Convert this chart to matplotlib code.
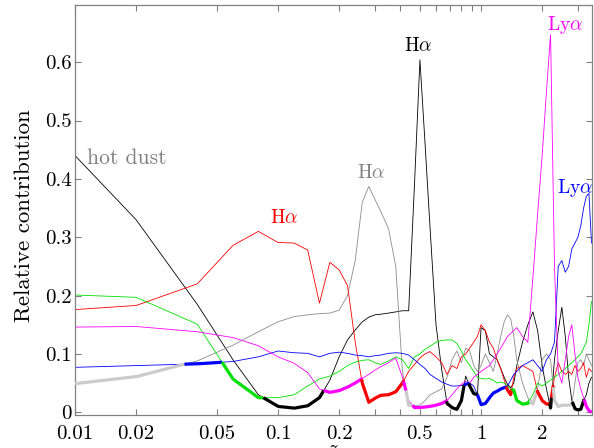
import numpy as np
import matplotlib
matplotlib.use("Agg")
import matplotlib.pyplot as plt
from matplotlib.ticker import FixedLocator, FixedFormatter, NullLocator

plt.rcParams['font.family'] = 'serif'
plt.rcParams['font.serif'] = ['cmr10']
plt.rcParams['mathtext.fontset'] = 'cm'
plt.rcParams['axes.unicode_minus'] = False
plt.rcParams['axes.formatter.use_mathtext'] = True

# ---------------- data ----------------
z = [0.01, 0.02, 0.04, 0.06, 0.08, 0.10, 0.12, 0.14, 0.16, 0.18,
     0.20, 0.22, 0.24, 0.26, 0.28, 0.30, 0.32, 0.35, 0.38, 0.41,
     0.44, 0.47, 0.50, 0.53, 0.56, 0.60, 0.64, 0.68, 0.72, 0.76,
     0.80, 0.84, 0.88, 0.92, 0.96, 1.00, 1.05, 1.10, 1.15, 1.20,
     1.25, 1.30, 1.35, 1.40, 1.45, 1.50, 1.60, 1.70, 1.80, 1.90,
     2.00, 2.10, 2.20, 2.30, 2.40, 2.50, 2.60, 2.70, 2.80, 2.90,
     3.00, 3.10, 3.20, 3.30, 3.40, 3.50]

black = [0.44, 0.33, 0.185, 0.09, 0.03, 0.01, 0.007, 0.011, 0.025, 0.055,
         0.095, 0.124, 0.141, 0.155, 0.163, 0.167, 0.168, 0.17, 0.172, 0.174,
         0.174, 0.39, 0.604, 0.46, 0.32, 0.15, 0.073, 0.015, 0.008, 0.005,
         0.02, 0.062, 0.045, 0.032, 0.03, 0.145, 0.14, 0.10, 0.095, 0.09,
         0.075, 0.06, 0.048, 0.042, 0.05, 0.08, 0.12, 0.15, 0.172, 0.14,
         0.08, 0.04, 0.007, 0.09, 0.14, 0.18, 0.13, 0.06, 0.02, 0.006,
         0.004, 0.005, 0.02, 0.03, 0.05, 0.06]

gray = [0.049, 0.061, 0.088, 0.115, 0.138, 0.155, 0.164, 0.167, 0.169, 0.17,
        0.175, 0.2, 0.26, 0.36, 0.387, 0.365, 0.345, 0.315, 0.25, 0.07,
        0.012, 0.012, 0.012, 0.02, 0.03, 0.035, 0.04, 0.06, 0.09, 0.105,
        0.085, 0.11, 0.105, 0.08, 0.07, 0.08, 0.1, 0.085, 0.07, 0.1,
        0.13, 0.155, 0.167, 0.16, 0.13, 0.09, 0.05, 0.025, 0.014, 0.04,
        0.09, 0.1, 0.09, 0.02, 0.01, 0.012, 0.012, 0.012, 0.013, 0.05,
        0.085, 0.09, 0.08, 0.1, 0.09, 0.08]

red = [0.176, 0.183, 0.22, 0.286, 0.31, 0.291, 0.29, 0.278, 0.187, 0.257,
       0.244, 0.217, 0.12, 0.05, 0.017, 0.024, 0.029, 0.03, 0.035, 0.05,
       0.07, 0.082, 0.093, 0.1, 0.104, 0.095, 0.085, 0.065, 0.08, 0.075,
       0.095, 0.1, 0.11, 0.12, 0.13, 0.15, 0.14, 0.12, 0.11, 0.09,
       0.075, 0.055, 0.038, 0.03, 0.06, 0.075, 0.08, 0.075, 0.07, 0.035,
       0.02, 0.014, 0.015, 0.06, 0.085, 0.07, 0.065, 0.07, 0.065, 0.08,
       0.07, 0.075, 0.085, 0.06, 0.075, 0.07]

green = [0.201, 0.197, 0.151, 0.057, 0.025, 0.025, 0.03, 0.045, 0.057, 0.062,
         0.07, 0.08, 0.086, 0.089, 0.09, 0.085, 0.082, 0.088, 0.095, 0.09,
         0.075, 0.095, 0.1, 0.108, 0.113, 0.12, 0.123, 0.124, 0.124, 0.118,
         0.105, 0.09, 0.08, 0.07, 0.06, 0.058, 0.057, 0.058, 0.055, 0.05,
         0.052, 0.05, 0.045, 0.04, 0.038, 0.02, 0.014, 0.015, 0.03, 0.05,
         0.045, 0.05, 0.055, 0.06, 0.065, 0.07, 0.075, 0.08, 0.085, 0.09,
         0.095, 0.1, 0.11, 0.12, 0.15, 0.19]

blue = [0.077, 0.08, 0.083, 0.087, 0.095, 0.105, 0.102, 0.101, 0.095, 0.101,
        0.103, 0.101, 0.098, 0.097, 0.095, 0.097, 0.098, 0.101, 0.102, 0.101,
        0.098, 0.09, 0.082, 0.075, 0.065, 0.058, 0.052, 0.048, 0.045, 0.045,
        0.046, 0.048, 0.05, 0.045, 0.03, 0.013, 0.015, 0.025, 0.033, 0.036,
        0.04, 0.042, 0.045, 0.055, 0.065, 0.07, 0.08, 0.085, 0.09, 0.08,
        0.07, 0.09, 0.1, 0.12, 0.25, 0.26, 0.24, 0.25, 0.28, 0.29,
        0.3, 0.32, 0.35, 0.37, 0.375, 0.29]

magenta = [0.146, 0.147, 0.138, 0.128, 0.114, 0.095, 0.084, 0.068, 0.04, 0.034,
           0.037, 0.043, 0.05, 0.058, 0.065, 0.072, 0.078, 0.085, 0.093, 0.06,
           0.02, 0.008, 0.008, 0.009, 0.01, 0.012, 0.015, 0.02, 0.03, 0.04,
           0.048, 0.053, 0.05, 0.06, 0.065, 0.07, 0.075, 0.08, 0.09, 0.1,
           0.11, 0.12, 0.13, 0.135, 0.14, 0.145, 0.13, 0.12, 0.23, 0.34,
           0.44, 0.55, 0.647, 0.25, 0.07, 0.05, 0.09, 0.13, 0.15, 0.1,
           0.06, 0.04, 0.025, 0.01, 0.003, 0.0]

series_names = ['black', 'gray', 'red', 'green', 'blue', 'magenta']
series_vals = [black, gray, red, green, blue, magenta]

xtick_vals = [0.01, 0.02, 0.05, 0.1, 0.2, 0.3, 0.4, 0.5, 0.6, 0.7, 0.8, 0.9, 1, 2, 3]
xtick_labels = ['0.01', '0.02', '0.05', '0.1', '0.2', '', '', '0.5', '', '', '', '', '1', '2', '']
ytick_vals = [0, 0.1, 0.2, 0.3, 0.4, 0.5, 0.6]
ytick_labels = ['0', '0.1', '0.2', '0.3', '0.4', '0.5', '0.6']

# ---------------- styles ----------------
thin_colors = {'black': 'k', 'gray': '0.55', 'red': '#ff0000', 'green': '#00e000',
               'blue': '#0000ff', 'magenta': '#ff00ff'}
thick_colors = {'black': 'k', 'gray': '#cbcbcb', 'red': '#ff0000', 'green': '#00e000',
                'blue': '#0000ff', 'magenta': '#ff00ff'}

fig = plt.figure(figsize=(5.94, 4.48), dpi=100)
ax = fig.add_axes([75 / 594, 1 - 414.6 / 448, 516.5 / 594, 409.6 / 448])

Z = np.array(z)
for name, vals in zip(series_names, series_vals):
    ax.plot(Z, vals, color=thin_colors[name], lw=0.6, zorder=2)

# lower envelope (minimum contribution), drawn thick in the colour of the minimum series
logz = np.log10(Z)
fine = np.linspace(logz[0], logz[-1], 6000)
V = np.vstack([np.interp(fine, logz, np.array(v, float)) for v in series_vals])
imin = V.argmin(axis=0)
env = V.min(axis=0)
start = 0
for i in range(1, len(fine) + 1):
    if i == len(fine) or imin[i] != imin[start]:
        end = min(i, len(fine) - 1)
        name = series_names[imin[start]]
        ax.plot(10 ** fine[start:end + 1], env[start:end + 1],
                color=thick_colors[name], lw=2.3, solid_capstyle='butt', zorder=3)
        start = i

ax.set_xscale('log')
ax.set_xlim(0.01, 3.5)
ax.set_ylim(-0.004, 0.698)

ax.xaxis.set_major_locator(FixedLocator(xtick_vals))
ax.xaxis.set_major_formatter(FixedFormatter(xtick_labels))
ax.xaxis.set_minor_locator(NullLocator())
ax.yaxis.set_major_locator(FixedLocator(ytick_vals))
ax.yaxis.set_major_formatter(FixedFormatter(ytick_labels))

ax.tick_params(direction='in', length=4, width=0.8, color='0.5', labelsize=15,
               top=True, right=True)
ax.tick_params(axis='x', pad=7.5)
ax.tick_params(axis='y', pad=2.5)
for sp in ax.spines.values():
    sp.set_color('0.5')
    sp.set_linewidth(0.9)

ax.set_ylabel('Relative contribution', fontsize=16.5)
ax.yaxis.set_label_coords(-0.079, 0.486)
ax.set_xlabel('$z$', fontsize=15)
ax.xaxis.set_label_coords(0.5, -0.062)

# annotations
ax.text(0.0115, 0.436, 'hot dust', color='0.5', fontsize=15.5, ha='left', va='center')
ax.text(0.1068, 0.333, r'H$\alpha$', color='#ff0000', fontsize=14, ha='center', va='center')
ax.text(0.2865, 0.41, r'H$\alpha$', color='0.5', fontsize=14, ha='center', va='center')
ax.text(0.488, 0.628, r'H$\alpha$', color='k', fontsize=14, ha='center', va='center')
ax.text(2.594, 0.664, r'Ly$\alpha$', color='#ff00ff', fontsize=14, ha='center', va='center')
ax.text(2.92, 0.384, r'Ly$\alpha$', color='#0000ff', fontsize=14, ha='center', va='center')

fig.savefig('out.png', dpi=100)
